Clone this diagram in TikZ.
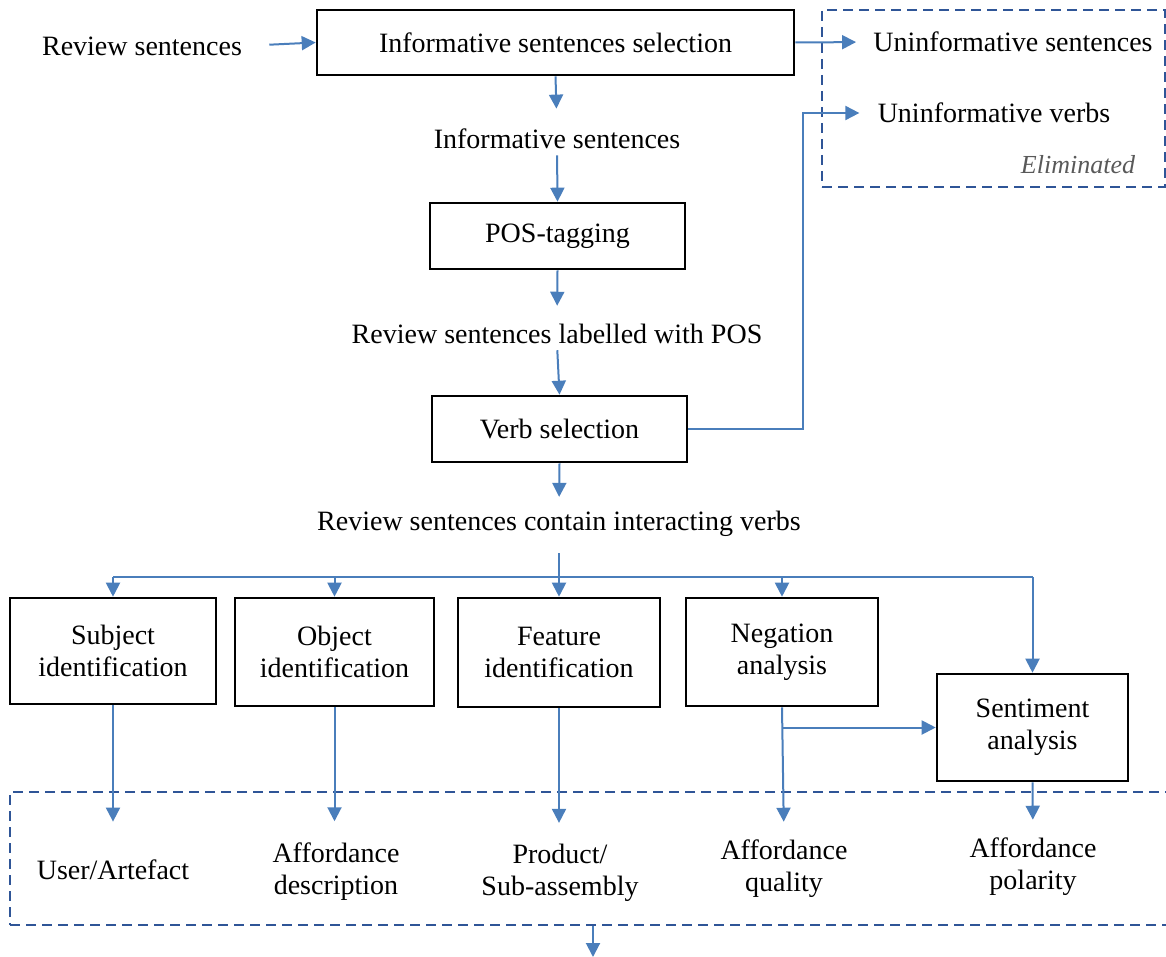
\documentclass[tikz,border=0pt]{standalone}
\usepackage{fontspec}
\setmainfont{Liberation Serif}
\usetikzlibrary{arrows.meta}
\definecolor{arrblue}{HTML}{4A7EBB}
\definecolor{dashblue}{HTML}{2F5597}
\definecolor{elimgray}{HTML}{595959}

\begin{document}
\begin{tikzpicture}[x=0.5pt, y=-0.5pt,
    font=\fontsize{14}{16}\selectfont,
    box/.style={draw, line width=1.3pt, align=center, inner sep=0pt},
    txt/.style={align=center, inner sep=0pt},
    arr/.style={draw=arrblue, line width=1pt, -{Triangle[length=7pt, width=7pt]}},
    lnk/.style={draw=arrblue, line width=1pt},
    region/.style={draw=dashblue, line width=1.2pt, dash pattern=on 5pt off 3pt, inner sep=0pt}]
  \useasboundingbox (0,0) rectangle (1166,957);

  % dashed regions
  \node[region, minimum width=171.5pt, minimum height=88.5pt] (eliminated) at (993.5,98.5) {};
  \node[region, minimum width=610pt, minimum height=66.5pt] (outputs) at (620,858.5) {};

  % upper chain
  \node[txt] (rev) at (142,46) {Review sentences};
  \node[box, minimum width=238.5pt, minimum height=32.5pt] (sel) at (555.5,42.5) {Informative sentences selection};
  \node[txt] (unsent) at (1013,42) {Uninformative sentences};
  \node[txt] (unverb) at (994,113) {Uninformative verbs};
  \node[txt, font=\fontsize{13}{15}\selectfont\itshape, text=elimgray] (elimtext) at (1078,165) {Eliminated};
  \node[txt] (inf) at (557,139) {Informative sentences};
  \node[box, minimum width=127.5pt, minimum height=33pt] (pos) at (557.5,236) {POS-tagging};
  \node[txt] (lab) at (557,334) {Review sentences labelled with POS};
  \node[box, minimum width=127.5pt, minimum height=33pt] (verb) at (559.5,429) {Verb selection};
  \node[txt] (cont) at (559,524) {Review sentences contain interacting verbs};

  % analysis boxes
  \node[box, minimum width=103pt, minimum height=53pt] (subj) at (113,651) {Subject\\identification};
  \node[box, minimum width=99.5pt, minimum height=54pt] (obj) at (334.5,652) {Object\\identification};
  \node[box, minimum width=101pt, minimum height=54.5pt] (feat) at (559,652.5) {Feature\\identification};
  \node[box, minimum width=96pt, minimum height=54pt] (neg) at (782,652) {Negation\\analysis};
  \node[box, minimum width=95.5pt, minimum height=53.5pt] (sent) at (1032.5,727.5) {Sentiment\\analysis};

  % outputs
  \node[txt] (user) at (113,870) {User/Artefact};
  \node[txt] (desc) at (336,871.5) {Affordance\\description};
  \node[txt] (prod) at (560,873) {Product/\\Sub-assembly};
  \node[txt] (qual) at (784,869) {Affordance\\quality};
  \node[txt] (pola) at (1033,867) {Affordance\\polarity};

  \coordinate (bus) at (559,577);
  \coordinate (next) at (593,957);

  \draw[arr, shorten <=13.5pt] (rev.east) -- (sel.west);
  \draw[arr, shorten >=8.5pt] (sel.east) -- (unsent.west);
  \draw[arr, shorten >=10pt] (sel.south) -- (inf.north);
  \draw[arr, shorten <=3pt] (inf.south) -- (pos.north);
  \draw[arr, shorten >=9pt] (pos.south) -- (lab.north);
  \draw[arr, shorten <=3pt] (lab.south) -- (verb.north);
  \draw[arr, shorten >=7pt] (verb.south) -- (cont.north);
  \draw[arr, shorten >=9pt] (verb.east) -- ++(115,0) |- (unverb.west);

  \draw[lnk, shorten <=8pt] (cont.south) -- (bus);
  \draw[lnk] (subj.north |- bus) -- (sent.north |- bus);
  \foreach \b in {subj,obj,feat,neg,sent}
    \draw[arr] (\b.north |- bus) -- (\b.north);

  \draw[arr, shorten >=19pt] (subj.south) -- (user.north);
  \draw[arr, shorten >=10.5pt] (obj.south) -- (obj.south |- desc.north);
  \draw[arr, shorten >=10.5pt] (feat.south) -- (feat.south |- prod.north);
  \draw[arr, shorten >=9pt] (neg.south) -- (qual.north);
  \draw[arr] (neg.south |- sent.west) -- (sent.west);
  \draw[arr, shorten >=9pt] (sent.south) -- (pola.north);
  \draw[arr] (next |- outputs.south) -- (next);
\end{tikzpicture}
\end{document}
